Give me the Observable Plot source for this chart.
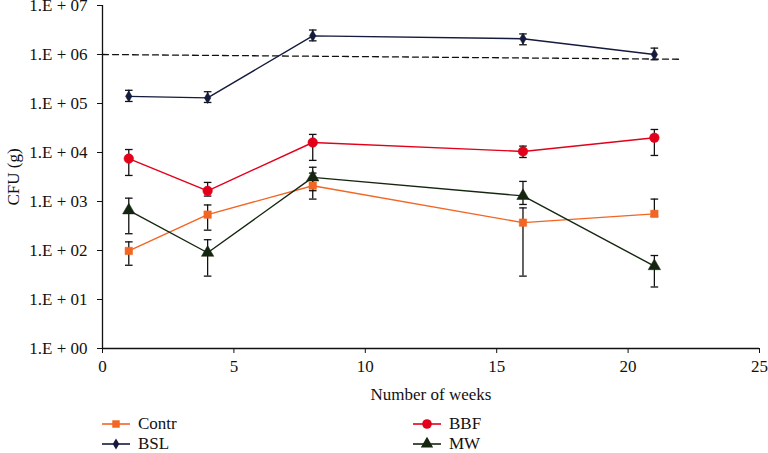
<!DOCTYPE html>
<html>
<head>
<meta charset="utf-8">
<script src="https://cdn.jsdelivr.net/npm/d3@7"></script>
<script src="https://cdn.jsdelivr.net/npm/@observablehq/plot@0.6"></script>
<style>
  html, body { margin: 0; padding: 0; background: #fff; }
  #wrap { position: relative; width: 768px; height: 453px; font-family: "Liberation Serif", "Times New Roman", serif; }
  .leg { position: absolute; display: flex; align-items: center; font-size: 17px; color: #111; }
  .leg svg { margin-right: 8px; }
</style>
</head>
<body>
<div id="wrap"></div>
<script>
// ---- data ----
const weeks = [1, 4, 8, 16, 21];
const seriesNames = ["Contr", "BBF", "BSL", "MW"];

const contr   = [98, 540, 2100, 370, 560];
const contrLo = [50, 260, 1120, 30, 500];
const contrHi = [150, 850, 3800, 740, 1120];

const bbf   = [7500, 1650, 16000, 10500, 20000];
const bbfLo = [3400, 1290, 6900, 7900, 8700];
const bbfHi = [11500, 2450, 23400, 13500, 29500];

const bsl   = [140000, 130000, 2400000, 2100000, 1000000];
const bslLo = [110000, 105000, 1900000, 1580000, 780000];
const bslHi = [186000, 174000, 3160000, 2630000, 1350000];

const mw   = [660, 90, 3100, 1300, 48];
const mwLo = [220, 30, 1660, 870, 18];
const mwHi = [1170, 166, 5000, 2570, 79];

// reference (dashed) line
const refWeeks = [0, 22];
const refValues = [1000000, 800000];

const yTicks = [1, 10, 100, 1000, 10000, 100000, 1000000, 10000000];
const xTicks = [0, 5, 10, 15, 20, 25];

// ---- styles ----
const styles = {
  Contr: {color: "#F26522", symbol: "square", r: 4.2},
  BBF:   {color: "#E2001A", symbol: "circle", r: 4.8},
  BSL:   {color: "#141B3C", symbol: "diamond", r: 3.4},
  MW:    {color: "#14260F", symbol: "triangle", r: 4.6}
};

const values = {Contr: [contr, contrLo, contrHi], BBF: [bbf, bbfLo, bbfHi], BSL: [bsl, bslLo, bslHi], MW: [mw, mwLo, mwHi]};
const rows = [];
for (const name of seriesNames) {
  const [v, lo, hi] = values[name];
  weeks.forEach((w, i) => rows.push({series: name, week: w, value: v[i], lo: lo[i], hi: hi[i]}));
}
const refRows = refWeeks.map((w, i) => ({week: w, value: refValues[i]}));

const cap = {draw(ctx) { ctx.moveTo(-3.8, 0); ctx.lineTo(3.8, 0); }};
const FONT = 17;

const marks = [
  Plot.axisY({ticks: yTicks, tickSize: 5, tickPadding: 10, fontSize: FONT,
    tickFormat: d => "1.E + " + String(Math.round(Math.log10(d))).padStart(2, "0"),
    label: "CFU (g)", labelAnchor: "center", labelOffset: 96, labelArrow: "none"}),
  Plot.axisX({ticks: xTicks, tickSize: 5, tickPadding: 6, fontSize: FONT,
    label: "Number of weeks", labelAnchor: "center", labelOffset: 51, labelArrow: "none"}),
  Plot.ruleX([0], {stroke: "#111", strokeWidth: 1.3}),
  Plot.ruleY([1], {stroke: "#111", strokeWidth: 1.3}),
  Plot.line(refRows, {x: "week", y: "value", stroke: "#111", strokeWidth: 1.3, strokeDasharray: "6,4"})
];
for (const name of seriesNames) {
  const s = styles[name];
  const d = rows.filter(r => r.series === name);
  marks.push(Plot.line(d, {x: "week", y: "value", stroke: s.color, strokeWidth: 1.4}));
}
for (const name of seriesNames) {
  const d = rows.filter(r => r.series === name);
  marks.push(Plot.ruleX(d, {x: "week", y1: "lo", y2: "hi", stroke: "#111", strokeWidth: 1.3}));
  marks.push(Plot.dot(d, {x: "week", y: "lo", symbol: cap, fill: "none", stroke: "#111", strokeWidth: 1.3}));
  marks.push(Plot.dot(d, {x: "week", y: "hi", symbol: cap, fill: "none", stroke: "#111", strokeWidth: 1.3}));
}
for (const name of seriesNames) {
  const s = styles[name];
  const d = rows.filter(r => r.series === name);
  marks.push(Plot.dot(d, {x: "week", y: "value", symbol: s.symbol, r: s.r, fill: s.color, stroke: s.color, strokeWidth: 0.5}));
}

const H = 405;
const chart = Plot.plot({
  width: 768,
  height: H,
  marginLeft: 102,
  marginRight: 9,
  marginTop: 5,
  marginBottom: H - 348,
  style: {fontFamily: "Liberation Serif, Times New Roman, serif", fontSize: FONT + "px", color: "#111", background: "#fff", overflow: "visible"},
  x: {domain: [0, 25]},
  y: {type: "log", domain: [1, 1e7]},
  marks
});
const wrap = document.getElementById("wrap");
wrap.appendChild(chart);

// ---- legend ----
const legendPos = {
  Contr: {left: 102, top: 424},
  BBF:   {left: 413, top: 424},
  BSL:   {left: 102, top: 444},
  MW:    {left: 413, top: 444}
};
const symMap = {square: d3.symbolSquare, circle: d3.symbolCircle, diamond: d3.symbolDiamond, triangle: d3.symbolTriangle};
for (const name of seriesNames) {
  const s = styles[name];
  const p = legendPos[name];
  const div = document.createElement("div");
  div.className = "leg";
  div.style.left = p.left + "px";
  div.style.top = (p.top - 9) + "px";
  div.style.height = "18px";
  div.style.lineHeight = "18px";
  const path = d3.symbol(symMap[s.symbol], Math.PI * s.r * s.r)();
  div.innerHTML = `<svg width="28" height="18"><line x1="0" x2="28" y1="9" y2="9" stroke="${s.color}" stroke-width="1.6"/><path transform="translate(14,9)" d="${path}" fill="${s.color}"/></svg><span>${name}</span>`;
  wrap.appendChild(div);
}
</script>
</body>
</html>
